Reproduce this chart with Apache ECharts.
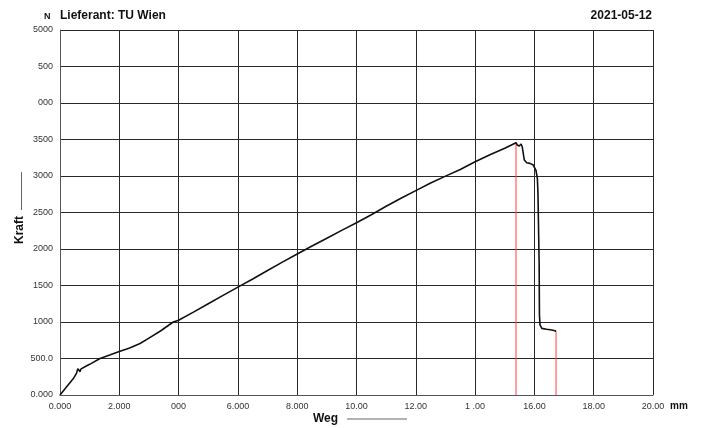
<!DOCTYPE html>
<html><head><meta charset="utf-8">
<script src="https://cdn.jsdelivr.net/npm/echarts@6/dist/echarts.min.js"></script>
<style>html,body{margin:0;padding:0;background:#fff}#c{width:702px;height:428px}</style>
</head><body><div id="c"></div>
<script>
// Weg (mm)
const weg = [0,0.15,0.3,0.45,0.56,0.6,0.63,0.66,0.68,0.7,0.75,0.9,1.0,1.35,1.7,2.0,2.35,2.7,3.0,3.4,3.82,4.0,4.5,5.0,5.5,6.0,6.5,7.0,7.5,8.0,8.5,9.0,9.5,10.0,10.5,11.0,11.5,12.0,12.5,13.04,13.5,14.0,14.5,15.0,15.38,15.42,15.49,15.55,15.59,15.66,15.74,15.85,15.96,16.05,16.10,16.12,16.16,16.17,16.19,16.25,16.41,16.59,16.69,16.73];
// Kraft (N)
const kraft = [0,75,150,225,300,360,375,365,320,355,370,400,420,500,550,595,645,705,780,880,1000,1025,1135,1250,1365,1478,1590,1705,1820,1932,2040,2148,2255,2360,2470,2585,2695,2800,2905,3005,3090,3196,3290,3380,3456,3425,3410,3438,3400,3219,3182,3173,3150,3082,2968,2763,1800,1100,959,913,900,890,881,870];
// Red markers (Weg)
const redX = [15.38, 16.73];
const redY = [3456, 870];
const xTickLabels = ["0.000","2.000","000","6.000","8.000","10.00","12.00","1 .00","16.00","18.00","20.00"];
const yTickLabels = ["0.000","500.0","1000","1500","2000","2500","3000","3500","000","500","5000"];

const curve = weg.map((x,i)=>[x,kraft[i]]);
const redSeries = redX.map((x,i)=>({
  type:'line', data:[[x,0],[x,redY[i]]], symbol:'none', silent:true,
  lineStyle:{color:'#ff4040', width:1}, z:3
}));
const font = 'Liberation Sans, Arial, sans-serif';
const chart = echarts.init(document.getElementById('c'));
chart.setOption({
  animation:false,
  backgroundColor:'#fff',
  grid:{left:60,right:49,top:30,bottom:33},
  xAxis:{type:'value',min:0,max:20,interval:2,
    axisLine:{show:true,lineStyle:{color:'#555',width:1}},
    axisTick:{show:false},
    splitLine:{show:true,lineStyle:{color:'#2a2a2a',width:1}},
    axisLabel:{color:'#333',fontFamily:font,fontSize:9,margin:7,
      formatter:(v)=>xTickLabels[Math.round(v/2)]}},
  yAxis:{type:'value',min:0,max:5000,interval:500,
    axisLine:{show:true,lineStyle:{color:'#555',width:1}},
    axisTick:{show:false},
    splitLine:{show:true,lineStyle:{color:'#2a2a2a',width:1}},
    axisLabel:{color:'#333',fontFamily:font,fontSize:9,margin:7,
      formatter:(v)=>yTickLabels[Math.round(v/500)]}},
  series:[
    {type:'line',data:curve,symbol:'none',lineStyle:{color:'#111',width:1.6},z:4},
    ...redSeries
  ],
  graphic:[
    {type:'text',left:44,top:12,style:{text:'N',font:'bold 9px '+font,fill:'#111'}},
    {type:'text',left:60,top:10,style:{text:'Lieferant: TU Wien',font:'bold 12px '+font,fill:'#111'}},
    {type:'text',right:50,top:10,style:{text:'2021-05-12',font:'bold 12px '+font,fill:'#111'}},
    {type:'text',left:670,top:401,style:{text:'mm',font:'bold 10px '+font,fill:'#111'}},
    {type:'text',left:313,top:413,style:{text:'Weg',font:'bold 12px '+font,fill:'#111'}},
    {type:'line',shape:{x1:347,y1:419,x2:407,y2:419},style:{stroke:'#666',lineWidth:1}},
    {type:'group',x:20,y:244,rotation:Math.PI/2,children:[
      {type:'text',x:0,y:0,style:{text:'Kraft',font:'bold 12px '+font,fill:'#111',textVerticalAlign:'middle'}}
    ]},
    {type:'line',shape:{x1:21.5,y1:172,x2:21.5,y2:210},style:{stroke:'#666',lineWidth:1}}
  ]
});
</script></body></html>
